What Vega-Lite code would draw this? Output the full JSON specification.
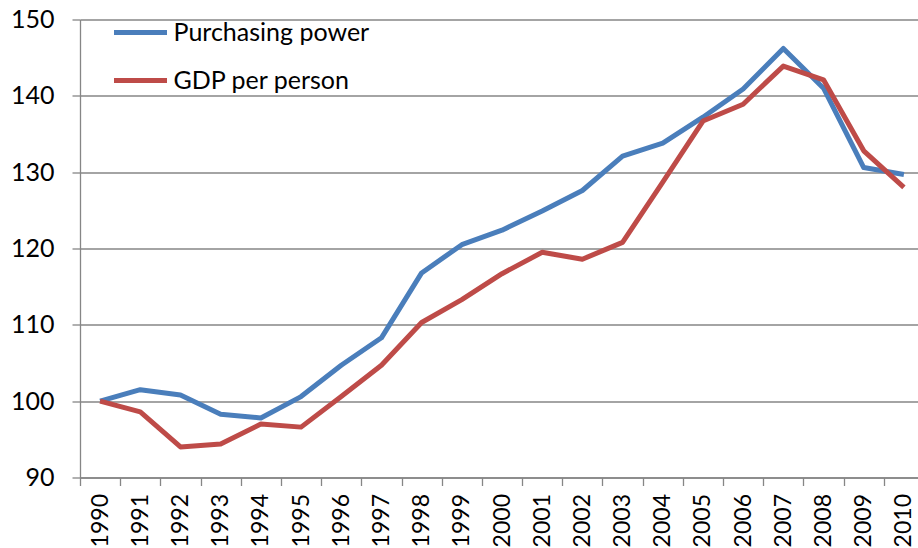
{
  "$schema": "https://vega.github.io/schema/vega-lite/v6.json",
  "autosize": "none",
  "padding": {"left": 80, "top": 19.5, "right": 0, "bottom": 71},
  "width": 844,
  "height": 458,
  "background": "white",
  "config": {
    "view": {"stroke": null},
    "font": "Lato",
    "axis": {"labelFont": "Lato", "labelFontSize": 25, "labelColor": "#000000", "domainColor": "#868686", "tickColor": "#868686", "gridColor": "#868686", "domainWidth": 1.3, "tickWidth": 1.3, "gridWidth": 1.3}
  },
  "data": {"values": [
    {"year": "1990", "series": "Purchasing power", "value": 100},
    {"year": "1991", "series": "Purchasing power", "value": 101.5},
    {"year": "1992", "series": "Purchasing power", "value": 100.8},
    {"year": "1993", "series": "Purchasing power", "value": 98.3},
    {"year": "1994", "series": "Purchasing power", "value": 97.8},
    {"year": "1995", "series": "Purchasing power", "value": 100.6},
    {"year": "1996", "series": "Purchasing power", "value": 104.7},
    {"year": "1997", "series": "Purchasing power", "value": 108.3},
    {"year": "1998", "series": "Purchasing power", "value": 116.8},
    {"year": "1999", "series": "Purchasing power", "value": 120.5},
    {"year": "2000", "series": "Purchasing power", "value": 122.4},
    {"year": "2001", "series": "Purchasing power", "value": 124.9},
    {"year": "2002", "series": "Purchasing power", "value": 127.6},
    {"year": "2003", "series": "Purchasing power", "value": 132.1},
    {"year": "2004", "series": "Purchasing power", "value": 133.8},
    {"year": "2005", "series": "Purchasing power", "value": 137.2},
    {"year": "2006", "series": "Purchasing power", "value": 140.9},
    {"year": "2007", "series": "Purchasing power", "value": 146.2},
    {"year": "2008", "series": "Purchasing power", "value": 141.0},
    {"year": "2009", "series": "Purchasing power", "value": 130.6},
    {"year": "2010", "series": "Purchasing power", "value": 129.7},
    {"year": "1990", "series": "GDP per person", "value": 100},
    {"year": "1991", "series": "GDP per person", "value": 98.6},
    {"year": "1992", "series": "GDP per person", "value": 94.0},
    {"year": "1993", "series": "GDP per person", "value": 94.4},
    {"year": "1994", "series": "GDP per person", "value": 97.0},
    {"year": "1995", "series": "GDP per person", "value": 96.6},
    {"year": "1996", "series": "GDP per person", "value": 100.6},
    {"year": "1997", "series": "GDP per person", "value": 104.7},
    {"year": "1998", "series": "GDP per person", "value": 110.3},
    {"year": "1999", "series": "GDP per person", "value": 113.3},
    {"year": "2000", "series": "GDP per person", "value": 116.7},
    {"year": "2001", "series": "GDP per person", "value": 119.5},
    {"year": "2002", "series": "GDP per person", "value": 118.6},
    {"year": "2003", "series": "GDP per person", "value": 120.8},
    {"year": "2004", "series": "GDP per person", "value": 128.7},
    {"year": "2005", "series": "GDP per person", "value": 136.7},
    {"year": "2006", "series": "GDP per person", "value": 138.9},
    {"year": "2007", "series": "GDP per person", "value": 143.9},
    {"year": "2008", "series": "GDP per person", "value": 142.1},
    {"year": "2009", "series": "GDP per person", "value": 132.8},
    {"year": "2010", "series": "GDP per person", "value": 128.0}
  ]},
  "mark": {"type": "line", "strokeWidth": 5, "strokeJoin": "round"},
  "encoding": {
    "x": {
      "field": "year", "type": "ordinal", "title": null,
      "scale": {"type": "band", "paddingInner": 0, "paddingOuter": 0},
      "axis": {"labelAngle": 270, "labelFontSize": 23, "tickBand": "extent", "tickSize": 8, "labelPadding": 8, "grid": false, "domain": true}
    },
    "y": {
      "field": "value", "type": "quantitative", "title": null,
      "scale": {"domain": [90, 150], "nice": false},
      "axis": {"values": [90, 100, 110, 120, 130, 140, 150], "tickSize": 8, "labelPadding": 18, "grid": true}
    },
    "color": {
      "field": "series", "type": "nominal", "title": null,
      "scale": {"domain": ["Purchasing power", "GDP per person"], "range": ["#4A7EBB", "#BE4B48"]},
      "legend": {"orient": "none", "legendX": 31.5, "legendY": -16, "symbolType": "stroke", "symbolSize": 2809, "symbolStrokeWidth": 5, "labelFontSize": 25, "labelFont": "Lato", "labelColor": "#000000", "labelOffset": 4, "rowPadding": 6, "padding": 0, "labelLimit": 400}
    }
  }
}
